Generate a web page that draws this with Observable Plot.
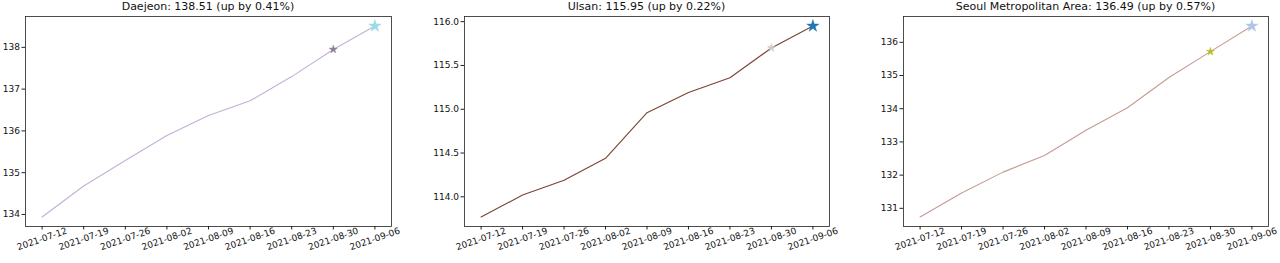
<!DOCTYPE html>
<html>
<head>
<meta charset="utf-8">
<script src="https://cdn.jsdelivr.net/npm/d3@7"></script>
<script src="https://cdn.jsdelivr.net/npm/@observablehq/plot@0.6"></script>
<style>
  body { margin: 0; background: #fff; font-family: "DejaVu Sans", sans-serif; }
  #wrap { position: relative; width: 1280px; height: 263px; overflow: hidden; }
  .panel { position: absolute; top: 0; }
  .title { position: absolute; top: 0; height: 14px; line-height: 14px; text-align: center; font-size: 11px; color: #111; white-space: nowrap; }
  .panel svg { position: absolute; top: 14px; left: 0; }
</style>
</head>
<body>
<div id="wrap"></div>
<script>
const dates = ["2021-07-12","2021-07-19","2021-07-26","2021-08-02","2021-08-09","2021-08-16","2021-08-23","2021-08-30","2021-09-06"];
const daejeon = [133.94, 134.68, 135.29, 135.89, 136.37, 136.72, 137.30, 137.95, 138.51];
const ulsan   = [113.77, 114.02, 114.19, 114.44, 114.96, 115.19, 115.36, 115.70, 115.95];
const seoul   = [130.74, 131.46, 132.09, 132.59, 133.35, 134.03, 134.94, 135.72, 136.49];
const titles  = ["Daejeon: 138.51 (up by 0.41%)", "Ulsan: 115.95 (up by 0.22%)", "Seoul Metropolitan Area: 136.49 (up by 0.57%)"];
const yTicks  = [[134,135,136,137,138],[114.0,114.5,115.0,115.5,116.0],[131,132,133,134,135,136]];
const yFormats = ["d", ".1f", "d"];
const lineColors = ["#c5b0d5", "#7a4334", "#c49c94"];
const prevStarColors = ["#8c8098", "#cfc9c9", "#bcbd22"];
const lastStarColors = ["#9edae5", "#1f77b4", "#aec7e8"];
const seriesList = [daejeon, ulsan, seoul];

// layout: [svg left, svg width, marginLeft, marginRight]
const layout = [[0, 400, 25, 9], [420, 420, 44, 11], [860, 420, 43, 12]];

const wrap = document.getElementById("wrap");
const parse = d3.utcParse("%Y-%m-%d");
const xTicks = dates.map(parse);

seriesList.forEach((vals, i) => {
  const data = dates.map((d, j) => ({date: parse(d), value: vals[j]}));
  const [left, width, ml, mr] = layout[i];
  const panel = document.createElement("div");
  panel.className = "panel";
  panel.style.left = left + "px";
  panel.style.width = width + "px";
  panel.style.height = "263px";
  const title = document.createElement("div");
  title.className = "title";
  title.style.left = ml + "px";
  title.style.width = (width - ml - mr) + "px";
  title.textContent = titles[i];
  panel.appendChild(title);

  const ext = d3.extent(vals);
  const pad = (ext[1] - ext[0]) * 0.05;
  const prev = data[data.length - 2];
  const last = data[data.length - 1];

  const chart = Plot.plot({
    width,
    height: 249,
    marginTop: 2,
    marginBottom: 37,
    marginLeft: ml,
    marginRight: mr,
    style: {fontFamily: "DejaVu Sans, sans-serif", fontSize: "9px", color: "#111", background: "transparent"},
    x: {type: "utc", inset: 16.6},
    y: {domain: [ext[0] - pad, ext[1] + pad]},
    marks: [
      Plot.frame({stroke: "#222", strokeWidth: 0.8}),
      Plot.axisY({ticks: yTicks[i], tickFormat: d3.format(yFormats[i]), tickSize: 3.5, tickPadding: 2, label: null, stroke: "#222"}),
      Plot.axisX({ticks: xTicks, tickFormat: d3.utcFormat("%Y-%m-%d"), tickSize: 3.5, tickRotate: -19, textAnchor: "middle", tickPadding: 9, label: null, stroke: "#222"}),
      Plot.line(data, {x: "date", y: "value", stroke: lineColors[i], strokeWidth: 1.1}),
      Plot.dot([prev], {x: "date", y: "value", symbol: "star", r: 2.6, fill: prevStarColors[i], stroke: prevStarColors[i], strokeWidth: 0.4}),
      Plot.dot([last], {x: "date", y: "value", symbol: "star", r: 3.9, fill: lastStarColors[i], stroke: lastStarColors[i], strokeWidth: 0.4})
    ]
  });
  panel.appendChild(chart);
  wrap.appendChild(panel);
});
</script>
</body>
</html>
